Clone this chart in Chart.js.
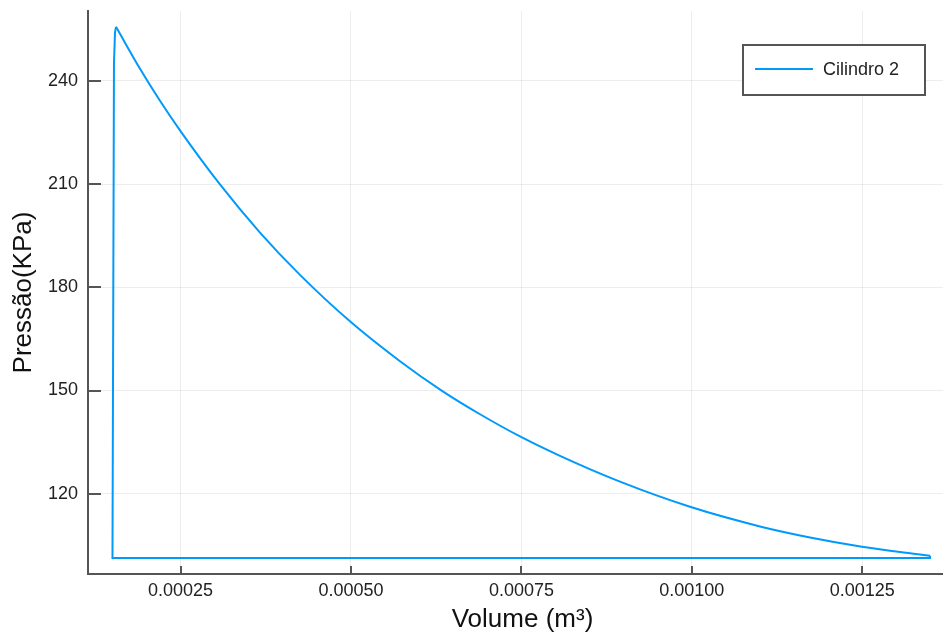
<!DOCTYPE html>
<html>
<head>
<meta charset="utf-8">
<script src="https://cdn.jsdelivr.net/npm/chart.js@4/dist/chart.umd.min.js"></script>
<style>
  html, body { margin: 0; padding: 0; background: #fff; overflow: hidden; }
  #wrap { width: 957px; height: 635px; }
</style>
</head>
<body>
<div id="wrap"><canvas id="c" width="957" height="635"></canvas></div>
<script>
// ---- data ----
const seriesLabel = "Cilindro 2";
// expansion curve (from the peak down to the right end)
const curveVolume = [
  0.0001553, 0.0001905, 0.0002198, 0.0002499, 0.0003078,
  0.0003665, 0.0004252, 0.0004985, 0.0005719, 0.0006335,
  0.0006893, 0.0007494, 0.0008066, 0.0008946, 0.0009973,
  0.0011000, 0.0011734, 0.0012496, 0.0013054, 0.0013494
];
const curvePressure = [
  255.7, 243.5, 234.2, 225.4, 209.9,
  195.9, 183.6, 170.1, 158.5, 149.9,
  143.1, 136.5, 131.0, 123.5, 116.2,
  110.5, 107.3, 104.6, 103.05, 102.0
];
// straight parts of the cycle: right end -> bottom line -> left rise -> peak
const edgeVolume = [0.0013494, 0.0013494, 0.0001501, 0.0001523, 0.0001538, 0.0001553];
const edgePressure = [102.0, 101.3, 101.3, 245.0, 254.0, 255.7];

const xTicks = [0.00025, 0.00050, 0.00075, 0.00100, 0.00125];
const yTicks = [120, 150, 180, 210, 240];
const xRange = [0.0001142, 0.001389];
const yRange = [96.67, 260.3];
const xTitle = "Volume (m³)";
const yTitle = "Pressão(KPa)";

const LINE = "#009AFA";
const AXIS = "#555555";
const FONT = "'Liberation Sans', Arial, Helvetica, sans-serif";

const curvePts = curveVolume.map((v, i) => ({ x: v, y: curvePressure[i] }));
const edgePts = edgeVolume.map((v, i) => ({ x: v, y: edgePressure[i] }));

const innerTicks = {
  id: "innerTicks",
  afterDatasetsDraw(chart) {
    const { ctx, chartArea: a, scales: { x, y } } = chart;
    ctx.save();
    ctx.strokeStyle = AXIS;
    ctx.lineWidth = 2;
    ctx.beginPath();
    xTicks.forEach(t => {
      const px = Math.round(x.getPixelForValue(t));
      ctx.moveTo(px, a.bottom); ctx.lineTo(px, a.bottom - 8);
    });
    yTicks.forEach(t => {
      const py = Math.round(y.getPixelForValue(t));
      ctx.moveTo(a.left, py); ctx.lineTo(a.left + 13, py);
    });
    ctx.stroke();
    ctx.restore();
  }
};

const boxLegend = {
  id: "boxLegend",
  afterDraw(chart) {
    const { ctx } = chart;
    const ds = chart.data.datasets[0];
    const bx = 743, by = 45, bw = 182, bh = 50;
    ctx.save();
    ctx.fillStyle = "#fff";
    ctx.fillRect(bx, by, bw, bh);
    ctx.strokeStyle = AXIS;
    ctx.lineWidth = 2;
    ctx.strokeRect(bx, by, bw, bh);
    const cy = by + bh / 2 - 1;
    ctx.strokeStyle = ds.borderColor;
    ctx.lineWidth = 2;
    ctx.beginPath();
    ctx.moveTo(bx + 12, cy); ctx.lineTo(bx + 70, cy);
    ctx.stroke();
    ctx.fillStyle = "#222";
    ctx.font = "18px " + FONT;
    ctx.textBaseline = "middle";
    ctx.textAlign = "left";
    ctx.fillText(ds.label, bx + 80, cy + 1);
    ctx.restore();
  }
};

new Chart(document.getElementById("c"), {
  type: "scatter",
  data: {
    datasets: [{
      label: seriesLabel,
      data: curvePts,
      showLine: true,
      borderColor: LINE,
      backgroundColor: LINE,
      borderWidth: 2,
      pointRadius: 0,
      cubicInterpolationMode: "monotone",
      fill: false
    }, {
      label: seriesLabel,
      data: edgePts,
      showLine: true,
      borderColor: LINE,
      backgroundColor: LINE,
      borderWidth: 2,
      pointRadius: 0,
      tension: 0,
      fill: false
    }]
  },
  options: {
    responsive: false,
    animation: false,
    layout: { padding: { top: 11, right: 0, bottom: 0, left: 0 } },
    plugins: { legend: { display: false }, tooltip: { enabled: false } },
    scales: {
      x: {
        type: "linear",
        min: xRange[0], max: xRange[1],
        afterBuildTicks: s => { s.ticks = xTicks.map(v => ({ value: v })); },
        afterFit: s => { s.height = 61; s.paddingLeft = 0; s.paddingRight = 0; },
        grid: { color: "rgba(0,0,0,0.07)", lineWidth: 1, drawTicks: false },
        border: { display: true, color: AXIS, width: 2 },
        ticks: {
          padding: 6, color: "#222", maxRotation: 0, autoSkip: false,
          font: { family: FONT, size: 18 },
          callback: v => Number(v).toFixed(5)
        },
        title: {
          display: true, text: xTitle, color: "#111",
          font: { family: FONT, size: 26 }, padding: { top: 0, bottom: 0 }
        }
      },
      y: {
        type: "linear",
        min: yRange[0], max: yRange[1],
        afterBuildTicks: s => { s.ticks = yTicks.map(v => ({ value: v })); },
        afterFit: s => { s.width = 88; s.paddingTop = 0; s.paddingBottom = 0; },
        grid: { color: "rgba(0,0,0,0.07)", lineWidth: 1, drawTicks: false },
        border: { display: true, color: AXIS, width: 2 },
        ticks: {
          padding: 10, color: "#222", autoSkip: false,
          font: { family: FONT, size: 18 },
          callback: v => String(v)
        },
        title: {
          display: true, text: yTitle, color: "#111",
          font: { family: FONT, size: 26 }, padding: { top: 8, bottom: 0 }
        }
      }
    }
  },
  plugins: [innerTicks, boxLegend]
});
</script>
</body>
</html>
